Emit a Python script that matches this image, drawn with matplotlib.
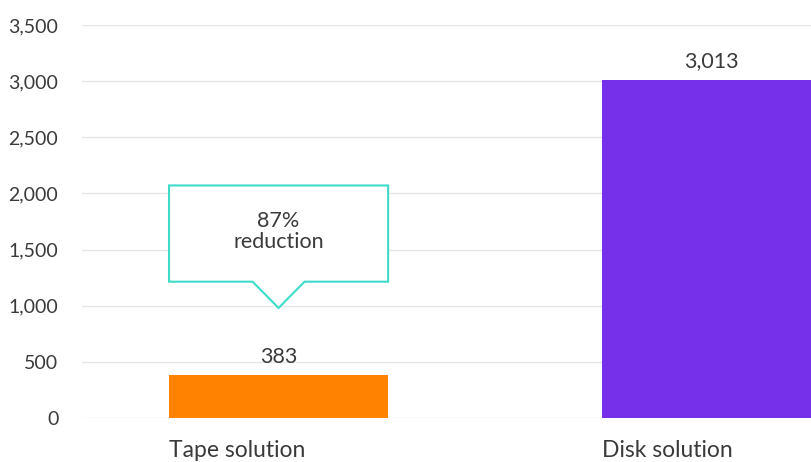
import numpy as np
import matplotlib
matplotlib.use('Agg')
import matplotlib.pyplot as plt
from matplotlib.patches import Polygon

categories = ['Tape solution', 'Disk solution']
values = [383, 3013]
bar_colors = ['#FF8300', '#7630EA']
yticks = [0, 500, 1000, 1500, 2000, 2500, 3000, 3500]
callout_text = '87%\nreduction'

plt.rcParams['font.family'] = ['Lato', 'DejaVu Sans']
text_color = '#3a3a3a'

fig = plt.figure(figsize=(8.12, 4.62), dpi=100)
ax = fig.add_axes([82 / 812, 44 / 462, 730 / 812, 393 / 462])

x = np.arange(len(categories))
width = 0.506
bars = ax.bar(x, values, width=width, color=bar_colors, zorder=3)
ax.bar_label(bars, labels=[f'{v:,}' for v in values], padding=6,
             fontsize=15.5, color=text_color)

ax.set_xlim(-0.454, 1.232)
ax.set_ylim(0, 3500)
ax.set_yticks(yticks)
ax.set_yticklabels([f'{t:,}' for t in yticks])
# category labels start at the left edge of each bar
ax.set_xticks(x - width / 2)
ax.set_xticklabels(categories, ha='left')
ax.tick_params(axis='y', length=0, pad=17, labelsize=14, labelcolor=text_color)
ax.tick_params(axis='x', length=0, pad=16, labelsize=16.5, labelcolor=text_color)
ax.grid(axis='y', color='#e6e6e6', lw=1, zorder=0)
ax.grid(axis='x', visible=False)
for s in ax.spines.values():
    s.set_visible(False)

# callout box with pointer toward the tape bar
hw, pw = 0.253, 0.06
top, base, tip = 2071, 1214, 980
pts = [(-hw, top), (hw, top), (hw, base), (pw, base), (0, tip),
       (-pw, base), (-hw, base)]
ax.add_patch(Polygon(pts, closed=True, facecolor='white', edgecolor='#3EDBC9',
                     lw=1.5, zorder=4))
ax.text(0, 1660, callout_text, ha='center', va='center', fontsize=15.5,
        color=text_color, linespacing=1.1, zorder=5)

fig.savefig('out.png', dpi=100)
